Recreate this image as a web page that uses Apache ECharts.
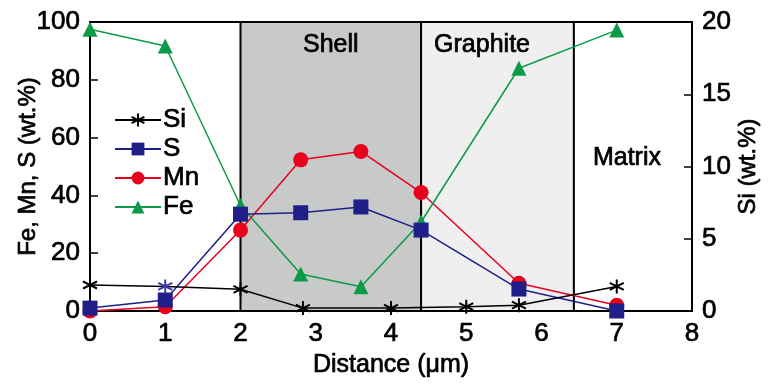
<!DOCTYPE html>
<html>
<head>
<meta charset="utf-8">
<script src="https://cdn.jsdelivr.net/npm/echarts@6/dist/echarts.min.js"></script>
<style>
  html, body { margin: 0; padding: 0; background: #fff; }
  #main { width: 772px; height: 386px; }
</style>
</head>
<body>
<div id="main"></div>
<script>
// distance along the line scan (um)
var siX = [0, 1, 2, 2.83, 4.0, 5.0, 5.7, 7.0];
var siY = [1.8, 1.7, 1.5, 0.2, 0.2, 0.3, 0.4, 1.7];   // Si, right axis
var elX = [0, 1, 2, 2.8, 3.6, 4.4, 5.7, 7.0];
var sY  = [1, 3.8, 33.5, 34, 36, 28, 7.6, 0];
var mnY = [0, 1.5, 28, 52.3, 55.2, 41, 9.6, 2];
var feY = [97.5, 91.7, 36.5, 12.8, 8.4, 30.8, 84, 97.2];
// zone boundaries
var shellZone = [2, 4.4];
var graphiteZone = [4.4, 6.43];
var matrixZone = [6.43, 8];

var FONT = 'Liberation Sans, Arial, sans-serif';
var star = 'path://M0,-10L0,10M-8.66,-5L8.66,5M-8.66,5L8.66,-5';

// slightly heavier text, like the printed figure
function txt(size) {
  return { fontSize: size, color: '#000', fontFamily: FONT, textBorderColor: '#000', textBorderWidth: 0.7 };
}

function pairs(xs, ys) {
  return xs.map(function (x, i) { return [x, ys[i]]; });
}

var siData = pairs(siX, siY).map(function (p, i) {
  // the Si point at 1 um is printed in blue in the figure
  if (i === 1) return { value: p, itemStyle: { borderColor: '#3a3aa8' } };
  return p;
});

var chart = echarts.init(document.getElementById('main'));
chart.setOption({
  animation: false,
  textStyle: { fontFamily: FONT },
  grid: { left: 90, right: 80, top: 22, bottom: 75, containLabel: false, outerBoundsMode: 'none',
          show: true, borderColor: '#000', borderWidth: 2, backgroundColor: 'transparent' },
  legend: {
    orient: 'vertical', left: 109, top: 101,
    itemWidth: 46, itemHeight: 16, itemGap: 1,
    textStyle: Object.assign(txt(26), { lineHeight: 28, padding: [0, 0, 0, -3] }),
    data: ['Si', 'S', 'Mn', 'Fe']
  },
  xAxis: {
    type: 'value', min: 0, max: 8, interval: 1,
    name: 'Distance (μm)', nameLocation: 'middle', nameGap: 39,
    nameTextStyle: txt(25),
    axisLine: { lineStyle: { color: '#000', width: 2 } },
    axisTick: { inside: true, length: 6, lineStyle: { color: '#000', width: 1.5 } },
    axisLabel: Object.assign(txt(26), { margin: 10 }),
    splitLine: { show: false }
  },
  yAxis: [{
    type: 'value', min: 0, max: 100, interval: 20,
    name: 'Fe, Mn, S (wt.%)', nameLocation: 'middle', nameGap: 50, nameRotate: 90, nameMoveOverlap: false,
    nameTextStyle: txt(24),
    axisLine: { show: true, lineStyle: { color: '#000', width: 2 } },
    axisTick: { show: true, inside: true, length: 8, lineStyle: { color: '#000', width: 1.5 } },
    axisLabel: Object.assign(txt(26), { margin: 10 }),
    splitLine: { show: false }
  }, {
    type: 'value', min: 0, max: 20, interval: 5, position: 'right',
    name: 'Si (wt.%)', nameLocation: 'middle', nameGap: 44, nameRotate: 90, nameMoveOverlap: false,
    nameTextStyle: txt(24),
    axisLine: { show: true, lineStyle: { color: '#000', width: 2 } },
    axisTick: { show: true, inside: true, length: 8, lineStyle: { color: '#000', width: 1.5 } },
    axisLabel: Object.assign(txt(26), { margin: 10 }),
    splitLine: { show: false }
  }],
  series: [{
    name: 'Si', type: 'line', yAxisIndex: 1, z: 5,
    data: siData,
    symbol: star, symbolSize: 14,
    lineStyle: { color: '#000', width: 1.5 },
    itemStyle: { color: '#000', borderColor: '#000', borderWidth: 2 },
    markArea: {
      silent: true,
      data: [
        [{ xAxis: shellZone[0], yAxis: 0, name: 'Shell',
           itemStyle: { color: '#c8c9c9', borderColor: '#000', borderWidth: 2 },
           label: { position: 'insideTop', distance: 12 } },
         { xAxis: shellZone[1], yAxis: 20 }],
        [{ xAxis: graphiteZone[0], yAxis: 0, name: 'Graphite',
           itemStyle: { color: '#efefef', borderColor: '#000', borderWidth: 2 },
           label: { position: 'insideTopLeft', distance: 12, offset: [2, 0] } },
         { xAxis: graphiteZone[1], yAxis: 20 }],
        [{ xAxis: matrixZone[0], yAxis: 0, name: 'Matrix',
           itemStyle: { color: 'rgba(0,0,0,0)', borderWidth: 0 },
           label: { position: 'insideTop', distance: 124, offset: [-6, 0] } },
         { xAxis: matrixZone[1], yAxis: 20 }]
      ],
      label: txt(25)
    }
  }, {
    name: 'S', type: 'line', z: 4,
    data: pairs(elX, sY),
    symbol: 'rect', symbolSize: 15,
    lineStyle: { color: '#1f1f8a', width: 1.5 },
    itemStyle: { color: '#1f1f8a' }
  }, {
    name: 'Mn', type: 'line', z: 3,
    data: pairs(elX, mnY),
    symbol: 'circle', symbolSize: 15,
    lineStyle: { color: '#e8001c', width: 1.5 },
    itemStyle: { color: '#e8001c' }
  }, {
    name: 'Fe', type: 'line', z: 3,
    data: pairs(elX, feY),
    symbol: 'triangle', symbolSize: 15,
    lineStyle: { color: '#0b9a48', width: 1.5 },
    itemStyle: { color: '#0b9a48' }
  }]
});
</script>
</body>
</html>
